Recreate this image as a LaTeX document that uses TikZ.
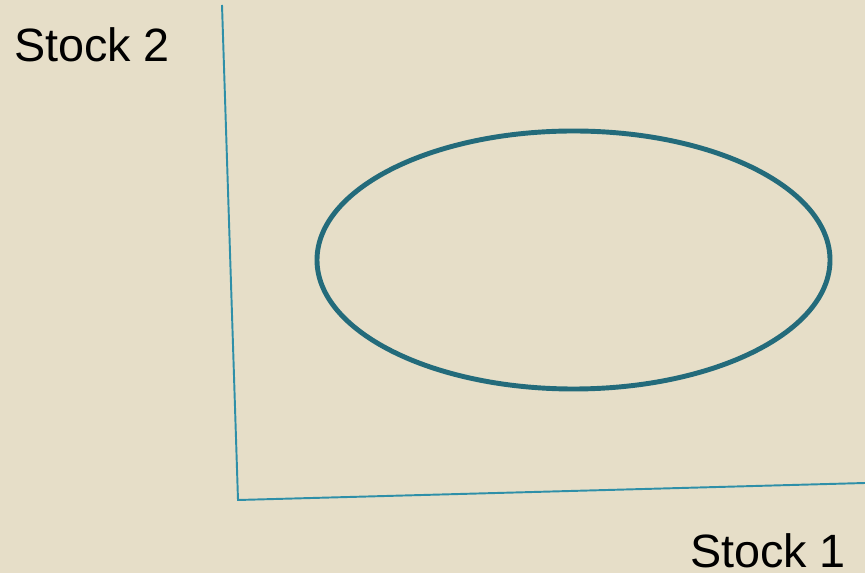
\documentclass[tikz,border=0pt]{standalone}
\usepackage{fontspec}
\setmainfont{Liberation Sans}
\usepackage{xcolor}
\definecolor{sfondo}{HTML}{E6DEC8}
\definecolor{asse}{HTML}{2E8FA8}
\definecolor{petrolio}{HTML}{236B7B}
\begin{document}
\begin{tikzpicture}[x=0.02cm,y=-0.02cm]
        % Sfondo
        \fill[sfondo] (0,0) rectangle (865,573);
        \useasboundingbox (0,0) rectangle (865,573);
        % Assi
        \coordinate (cima) at (222,5);
        \coordinate (origine) at (238,500);
        \coordinate (fondo) at (865,483);
        \draw[asse, line width=1.1pt] (cima) -- (origine) -- (fondo);
        % Ellisse
        \draw[petrolio, line width=2.8pt] (573.5,260) ellipse [x radius=256.5, y radius=129];
        % Etichette
        \node (stockdue) at (92,45) {\fontsize{26.6}{30}\selectfont Stock 2};
        \node (stockuno) at (768,551) {\fontsize{26.6}{30}\selectfont Stock 1};
    \end{tikzpicture}
\end{document}
